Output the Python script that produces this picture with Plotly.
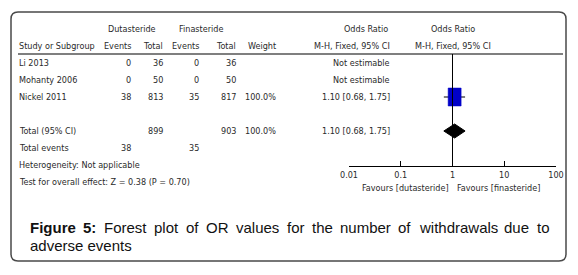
import plotly.graph_objects as go

# ---------------- data ----------------
studies = ["Li 2013", "Mohanty 2006", "Nickel 2011"]
dut_events = [0, 0, 38]
dut_total = [36, 50, 813]
fin_events = [0, 0, 35]
fin_total = [36, 50, 817]
weights = ["", "", "100.0%"]
or_est = [None, None, 1.10]
ci_lo = [None, None, 0.68]
ci_hi = [None, None, 1.75]
or_text = ["Not estimable", "Not estimable", "1.10 [0.68, 1.75]"]

total_label = "Total (95% CI)"
total_dut = 899
total_fin = 903
total_weight = "100.0%"
total_or = 1.10
total_lo = 0.68
total_hi = 1.75
total_or_text = "1.10 [0.68, 1.75]"
total_events_label = "Total events"
total_dut_events = 38
total_fin_events = 35
heterogeneity = "Heterogeneity: Not applicable"
overall_test = "Test for overall effect: Z = 0.38 (P = 0.70)"

tick_vals = [0.01, 0.1, 1, 10, 100]
tick_text = ["0.01", "0.1", "1", "10", "100"]
favours_left = "Favours [dutasteride]"
favours_right = "Favours [finasteride]"
caption_bold = ["Figure", "5:"]
caption_words = ["Forest", "plot", "of", "OR", "values", "for", "the", "number",
                 "of", "withdrawals", "due", "to"]
caption_line2 = "adverse events"

# ---------------- layout helpers ----------------
W, H = 578, 275
ROW0, ROWH = 63.0, 17.0          # pixel y of row 0 and row pitch
AX_Y = 166.0                     # pixel y of forest axis line
FX0, FX1 = 349.0, 556.0          # pixel extent of the log axis
DEC_PX = (FX1 - FX0) / 4.0       # pixels per decade

def row_of(py):
    return (py - ROW0) / ROWH

TF = "Liberation Sans Narrow, DejaVu Sans Condensed, Arial Narrow, sans-serif"
TC = "#2a2a2a"
FS = 9

fig = go.Figure()
annotations = []

def txt(x, row, s, anchor="left", size=FS, color=TC, family=TF, xref="x", yref="y"):
    annotations.append(dict(x=x, y=row, xref=xref, yref=yref, text=s, showarrow=False,
                            xanchor=anchor, yanchor="middle", borderpad=0,
                            font=dict(size=size, color=color, family=family)))

# column right edges (pixels)
C_STUDY = 18
C_DE, C_DT, C_FE, C_FT, C_W, C_OR = 132, 164, 200, 237, 277, 391

# headers
txt(132, -2, "Dutasteride", "center")
txt(201, -2, "Finasteride", "center")
txt(C_OR - 2, -2, "Odds Ratio", "right")
txt(C_STUDY, -1, "Study or Subgroup")
for x, s in [(C_DE, "Events"), (C_DT, "Total"), (C_FE, "Events"), (C_FT, "Total"),
             (C_W, "Weight"), (C_OR, "M-H, Fixed, 95% CI")]:
    txt(x, -1, s, "right")

for r, s in [(-2, "Odds Ratio"), (-1, "M-H, Fixed, 95% CI")]:
    annotations.append(dict(x=0, y=r, xref="x2", yref="y", text=s, showarrow=False,
                            xanchor="center", yanchor="middle", borderpad=0,
                            font=dict(size=FS, color=TC, family=TF)))

for i, s in enumerate(studies):
    txt(C_STUDY, i, s)
    txt(C_DE, i, str(dut_events[i]), "right")
    txt(C_DT, i, str(dut_total[i]), "right")
    txt(C_FE, i, str(fin_events[i]), "right")
    txt(C_FT, i, str(fin_total[i]), "right")
    if weights[i]:
        txt(C_W, i, weights[i], "right")
    txt(C_OR, i, or_text[i], "right")

R_TOT = len(studies) + 1
txt(C_STUDY, R_TOT, total_label)
txt(C_DT, R_TOT, str(total_dut), "right")
txt(C_FT, R_TOT, str(total_fin), "right")
txt(C_W, R_TOT, total_weight, "right")
txt(C_OR, R_TOT, total_or_text, "right")
txt(C_STUDY, R_TOT + 1, total_events_label)
txt(C_DE, R_TOT + 1, str(total_dut_events), "right")
txt(C_FE, R_TOT + 1, str(total_fin_events), "right")
txt(C_STUDY, R_TOT + 2, heterogeneity)
txt(C_STUDY, R_TOT + 3, overall_test)

# ---------------- forest marks ----------------
shapes = []
shapes.append(dict(type="line", xref="x2", yref="paper", x0=1, x1=1,
                   y0=1 - AX_Y / H, y1=1 - 54 / H, line=dict(color="#000", width=1)))

SQ_HW, SQ_HH = 6.5, 9.0          # square half width / half height in pixels
for i in range(len(studies)):
    if or_est[i] is None:
        continue
    fig.add_trace(go.Scatter(x=[ci_lo[i], ci_hi[i]], y=[i, i], mode="lines",
                             line=dict(color="#000", width=1), xaxis="x2", yaxis="y2",
                             hoverinfo="skip", showlegend=False))
    f = 10 ** (SQ_HW / DEC_PX)
    hh = SQ_HH / ROWH
    fig.add_trace(go.Scatter(x=[or_est[i] / f, or_est[i] * f, or_est[i] * f, or_est[i] / f, or_est[i] / f],
                             y=[i - hh, i - hh, i + hh, i + hh, i - hh], mode="lines",
                             fill="toself", fillcolor="#0000c8", line=dict(color="#0000c8", width=0.5),
                             xaxis="x2", yaxis="y2", hoverinfo="skip", showlegend=False))

dh = 7.0 / ROWH
fig.add_trace(go.Scatter(x=[total_lo, total_or, total_hi, total_or, total_lo],
                         y=[R_TOT, R_TOT - dh, R_TOT, R_TOT + dh, R_TOT],
                         mode="lines", fill="toself", fillcolor="#000",
                         line=dict(color="#000", width=1), xaxis="x2", yaxis="y2",
                         hoverinfo="skip", showlegend=False))

for s, anc, sh in [(favours_left, "right", -3), (favours_right, "left", 3)]:
    annotations.append(dict(x=0, y=1 - 188 / H, xref="x2", yref="paper", text=s,
                            showarrow=False, xanchor=anc, yanchor="middle", xshift=sh, borderpad=0,
                            font=dict(size=FS, color=TC, family=TF)))

shapes.append(dict(type="line", xref="x", yref="paper", x0=18, x1=563,
                   y0=1 - 54 / H, y1=1 - 54 / H, line=dict(color="#000", width=1.2)))

L, T, R, B, r = 11, 12, 566, 261, 7
def py(v):
    return 1 - v / H
path = (f"M {L+r},{py(T)} L {R-r},{py(T)} Q {R},{py(T)} {R},{py(T+r)} "
        f"L {R},{py(B-r)} Q {R},{py(B)} {R-r},{py(B)} L {L+r},{py(B)} "
        f"Q {L},{py(B)} {L},{py(B-r)} L {L},{py(T+r)} Q {L},{py(T)} {L+r},{py(T)} Z")
shapes.append(dict(type="path", xref="x", yref="paper", path=path,
                   line=dict(color="#4a4a4a", width=1.5)))

# ---------------- caption (justified first line) ----------------
AW = {' ': 278, 'a': 556, 'b': 556, 'c': 500, 'd': 556, 'e': 556, 'f': 278, 'g': 556, 'h': 556,
      'i': 222, 'l': 222, 'm': 833, 'n': 556, 'o': 556, 'p': 556, 'r': 333, 's': 500, 't': 278,
      'u': 556, 'v': 500, 'w': 722, 'F': 611, 'O': 778, 'R': 722, '5': 556, ':': 278}
AWB = {'F': 611, 'i': 278, 'g': 611, 'u': 611, 'r': 389, 'e': 556, '5': 556, ':': 333}
CS = 15
CF = "Liberation Sans, Arial, sans-serif"
words = [(w, True) for w in caption_bold] + [(w, False) for w in caption_words]
widths = [sum((AWB if b else AW).get(c, 556) for c in w) * CS / 1000 for w, b in words]
X0, X1 = 28.5, 548.5
gap = (X1 - X0 - sum(widths)) / (len(words) - 1)
cx = X0
for (w, b), wd in zip(words, widths):
    annotations.append(dict(x=cx, y=1 - 227 / H, xref="x", yref="paper",
                            text=("<b>" + w + "</b>") if b else w, showarrow=False,
                            xanchor="left", yanchor="middle", borderpad=0,
                            font=dict(size=CS, color="#111", family=CF)))
    cx += wd + gap
annotations.append(dict(x=X0, y=1 - 245 / H, xref="x", yref="paper", text=caption_line2,
                        showarrow=False, xanchor="left", yanchor="middle", borderpad=0,
                        font=dict(size=CS, color="#111", family=CF)))

fig.update_layout(
    template="none",
    width=W, height=H, margin=dict(l=0, r=0, t=0, b=0, pad=0, autoexpand=False),
    paper_bgcolor="white", plot_bgcolor="rgba(0,0,0,0)",
    xaxis=dict(range=[0, W], domain=[0, 1], visible=False, fixedrange=True, automargin=False),
    yaxis=dict(range=[row_of(H), row_of(0)], domain=[0, 1], visible=False, fixedrange=True,
               automargin=False),
    xaxis2=dict(type="log", range=[-2, 2], domain=[FX0 / W, FX1 / W], anchor="y2",
                showline=True, linecolor="#000", linewidth=1, ticks="inside", ticklen=5,
                tickcolor="#000", tickwidth=1, tickvals=tick_vals, ticktext=tick_text,
                showgrid=False, zeroline=False, fixedrange=True, automargin=False,
                tickfont=dict(size=FS, color=TC, family=TF)),
    yaxis2=dict(range=[row_of(AX_Y), row_of(0)], domain=[1 - AX_Y / H, 1], visible=False,
                fixedrange=True, anchor="x2", automargin=False),
    shapes=shapes, annotations=annotations, showlegend=False,
)

fig.write_html("out.html", config={"displayModeBar": False, "staticPlot": True},
               post_script="document.body.style.margin='0';document.body.style.overflow='hidden';")
